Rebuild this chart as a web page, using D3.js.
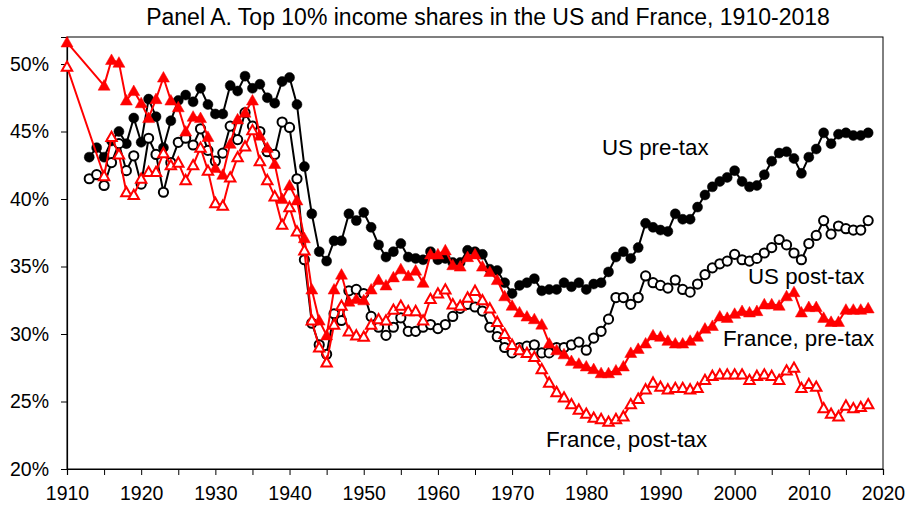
<!DOCTYPE html>
<html>
<head>
<meta charset="utf-8">
<title>Top 10% income shares</title>
<script src="https://d3js.org/d3.v7.min.js"></script>
<style>
  body { margin: 0; background: #fff; }
  svg { font-family: "Liberation Sans", Arial, sans-serif; }
  .axis text { font-size: 19.5px; fill: #000; }
  .axis path, .axis line { stroke: #000; }
  .lbl { font-size: 22.3px; fill: #000; }
</style>
</head>
<body>
<svg id="chart" width="909" height="507"></svg>
<script>
// data (percent)
var usYears = d3.range(1913, 2019);
var usPreTax = [
  43.1, 43.8, 43.1, 44.3, 45.0, 44.1, 46.0, 44.2, 47.4, 46.1,   // 1913-1922
  43.8, 45.8, 47.3, 47.7, 47.2, 48.2, 47.0, 46.3, 46.3, 48.4,   // 1923-1932
  48.0, 49.1, 48.2, 48.5, 47.5, 47.1, 48.7, 49.0, 47.0, 42.4,   // 1933-1942
  38.9, 36.1, 35.4, 36.9, 36.9, 38.9, 38.4, 39.0, 37.9, 36.6,   // 1943-1952
  35.7, 36.1, 36.7, 35.7, 35.6, 35.5, 36.1, 35.5, 35.6, 35.3,   // 1953-1962
  35.3, 36.2, 36.1, 35.9, 34.8, 34.7, 33.8, 33.0, 33.6, 33.8,   // 1963-1972
  34.1, 33.2, 33.3, 33.3, 33.8, 33.5, 33.8, 33.3, 33.7, 33.8,   // 1973-1982
  34.6, 35.7, 36.1, 35.6, 36.4, 38.2, 37.9, 37.7, 37.6, 38.9,   // 1983-1992
  38.5, 38.5, 39.4, 40.3, 40.9, 41.3, 41.6, 42.1, 41.3, 40.9,   // 1993-2002
  41.0, 41.8, 42.8, 43.4, 43.5, 43.0, 41.9, 43.1, 43.7, 44.9,   // 2003-2012
  44.1, 44.8, 44.9, 44.7, 44.7, 44.9                            // 2013-2018
];
var usPostTax = [
  41.5, 41.8, 41.0, 42.7, 44.1, 42.1, 43.2, 41.1, 44.5, 43.3,
  40.5, 42.7, 44.2, 44.5, 44.0, 45.2, 43.6, 42.8, 43.4, 45.4,
  44.4, 46.4, 45.4, 45.0, 43.5, 43.3, 45.7, 45.3, 41.5, 35.5,
  30.8, 29.2, 28.5, 31.5, 31.0, 33.2, 33.3, 33.0, 31.3, 30.5,
  29.9, 30.5, 31.2, 30.2, 30.2, 30.5, 30.7, 30.4, 30.7, 31.3,
  31.9, 32.2, 32.0, 31.7, 30.5, 29.8, 29.0, 28.6, 29.0, 29.1,
  29.2, 28.6, 28.6, 29.0, 29.0, 29.2, 29.4, 28.8, 29.7, 30.2,
  31.1, 32.7, 32.7, 32.2, 32.7, 34.3, 33.8, 33.6, 33.4, 34.0,
  33.3, 33.1, 33.7, 34.4, 34.9, 35.2, 35.4, 35.9, 35.5, 35.4,
  35.6, 36.0, 36.4, 37.0, 36.6, 36.0, 35.5, 36.7, 37.3, 38.4,
  37.4, 38.0, 37.8, 37.7, 37.7, 38.4
];

var frYears = [1910].concat(d3.range(1915, 2019));
var frPreTax = [
  51.6,                                                         // 1910
  48.4, 50.3, 50.1, 47.3, 48.0, 47.1, 46.0, 47.4, 49.0, 47.3,   // 1915-1924
  46.8, 45.0, 46.1, 46.0, 44.6, 42.3, 41.8, 44.1, 45.9, 46.4,   // 1925-1934
  47.3, 44.7, 43.8, 42.6, 40.0, 41.0, 39.9, 37.1, 33.3, 31.0,   // 1935-1944
  29.9, 33.3, 34.4, 32.4, 32.6, 32.5, 33.3, 34.0, 33.6, 34.2,   // 1945-1954
  34.8, 34.3, 34.7, 33.8, 35.9, 35.9, 36.2, 35.1, 35.0, 35.7,   // 1955-1964
  35.9, 35.0, 34.6, 34.0, 32.8, 32.1, 31.6, 31.3, 31.1, 30.7,   // 1965-1974
  29.3, 28.8, 28.5, 28.0, 27.8, 27.6, 27.4, 27.1, 27.1, 27.3,   // 1975-1984
  27.6, 28.6, 28.9, 29.3, 29.9, 29.8, 29.5, 29.3, 29.3, 29.5,   // 1985-1994
  29.8, 30.4, 30.6, 31.3, 31.2, 31.5, 31.7, 31.6, 31.7, 32.2,   // 1995-2004
  32.2, 32.1, 32.8, 33.1, 31.6, 32.0, 32.0, 31.2, 30.9, 30.9,   // 2005-2014
  31.8, 31.8, 31.8, 31.9                                        // 2015-2018
];
var frPostTax = [
  49.8,
  41.7, 44.6, 43.3, 40.5, 40.3, 41.5, 42.0, 42.0, 43.4, 42.5,
  42.7, 41.4, 42.5, 43.8, 42.1, 39.7, 39.5, 41.6, 43.1, 43.9,
  45.1, 42.8, 41.4, 40.2, 38.1, 39.4, 37.6, 36.2, 31.0, 29.0,
  27.9, 30.7, 32.1, 30.2, 29.9, 29.8, 30.7, 31.1, 31.0, 31.8,
  32.1, 31.7, 31.7, 31.0, 32.6, 33.0, 33.3, 32.2, 32.1, 32.7,
  33.2, 32.5, 31.9, 30.9, 30.0, 29.2, 28.8, 28.6, 28.3, 27.4,
  26.4, 25.7, 25.3, 24.8, 24.4, 24.1, 23.8, 23.7, 23.5, 23.7,
  23.9, 24.8, 25.2, 25.9, 26.4, 26.1, 25.9, 26.0, 26.0, 25.9,
  26.0, 26.6, 26.9, 27.0, 27.0, 27.0, 27.0, 26.6, 26.9, 27.0,
  26.9, 26.6, 27.3, 27.5, 26.0, 26.3, 26.1, 24.5, 24.1, 23.9,
  24.7, 24.5, 24.6, 24.8
];

var yTicks = [20, 25, 30, 35, 40, 45, 50];
var xTicks = d3.range(1910, 2021, 5);
var title = "Panel A. Top 10% income shares in the US and France, 1910-2018";

var width = 909, height = 507;
var margin = {top: 37, right: 26, bottom: 38, left: 67};

var svg = d3.select("#chart");

var x = d3.scaleLinear().domain([1910, 2020]).range([margin.left, width - margin.right]);
var y = d3.scaleLinear().domain([20, 52]).range([height - margin.bottom, margin.top]);

// frame
svg.append("rect")
  .attr("x", margin.left).attr("y", margin.top)
  .attr("width", width - margin.left - margin.right)
  .attr("height", height - margin.top - margin.bottom)
  .attr("fill", "none").attr("stroke", "#000").attr("stroke-width", 1);

// axes
svg.append("g")
  .attr("class", "axis")
  .attr("transform", "translate(0," + (height - margin.bottom) + ")")
  .call(d3.axisBottom(x).tickValues(xTicks).tickSize(6).tickPadding(11)
    .tickFormat(function(d){ return d % 10 === 0 ? d : ""; }));

svg.append("g")
  .attr("class", "axis")
  .attr("transform", "translate(" + margin.left + ",0)")
  .call(d3.axisLeft(y).tickValues(yTicks).tickSize(6).tickPadding(12)
    .tickFormat(function(d){ return d + "%"; }));

svg.selectAll(".axis .domain").attr("stroke-width", 1.2);

// title
svg.append("text")
  .attr("x", 488).attr("y", 25)
  .attr("text-anchor", "middle")
  .style("font-size", "23px")
  .text(title);

function toPoints(years, vals) {
  return years.map(function(yr, i){ return {year: yr, v: vals[i]}; });
}

var line = d3.line().x(function(d){ return x(d.year); }).y(function(d){ return y(d.v); });
var triFilled = "M0,-6L6,4.6L-6,4.6Z";
var triOpen = "M0,-5.2L5.2,4.1L-5.2,4.1Z";

var series = [
  {pts: toPoints(usYears, usPreTax), color: "#000", shape: "circle", filled: true},
  {pts: toPoints(usYears, usPostTax), color: "#000", shape: "circle", filled: false},
  {pts: toPoints(frYears, frPreTax), color: "#ff0000", shape: "tri", filled: true},
  {pts: toPoints(frYears, frPostTax), color: "#ff0000", shape: "tri", filled: false}
];

series.forEach(function(s) {
  var g = svg.append("g");
  g.append("path")
    .datum(s.pts)
    .attr("d", line)
    .attr("fill", "none")
    .attr("stroke", s.color)
    .attr("stroke-width", 2)
    .attr("stroke-linejoin", "round");

  if (s.shape === "circle") {
    g.selectAll("circle").data(s.pts).enter().append("circle")
      .attr("cx", function(d){ return x(d.year); })
      .attr("cy", function(d){ return y(d.v); })
      .attr("r", s.filled ? 5 : 4.6)
      .attr("fill", s.filled ? s.color : "#fff")
      .attr("stroke", s.color)
      .attr("stroke-width", s.filled ? 0.5 : 2);
  } else {
    g.selectAll("path.m").data(s.pts).enter().append("path")
      .attr("class", "m")
      .attr("d", s.filled ? triFilled : triOpen)
      .attr("transform", function(d){ return "translate(" + x(d.year) + "," + y(d.v) + ")"; })
      .attr("fill", s.filled ? s.color : "#fff")
      .attr("stroke", s.color)
      .attr("stroke-width", s.filled ? 0.5 : 2);
  }
});

// series labels
var labels = [
  {t: "US pre-tax", x: 602, y: 155},
  {t: "US post-tax", x: 748, y: 284},
  {t: "France, pre-tax", x: 723, y: 346},
  {t: "France, post-tax", x: 546, y: 447}
];
svg.selectAll("text.lbl").data(labels).enter().append("text")
  .attr("class", "lbl")
  .attr("x", function(d){ return d.x; })
  .attr("y", function(d){ return d.y; })
  .text(function(d){ return d.t; });
</script>
</body>
</html>
